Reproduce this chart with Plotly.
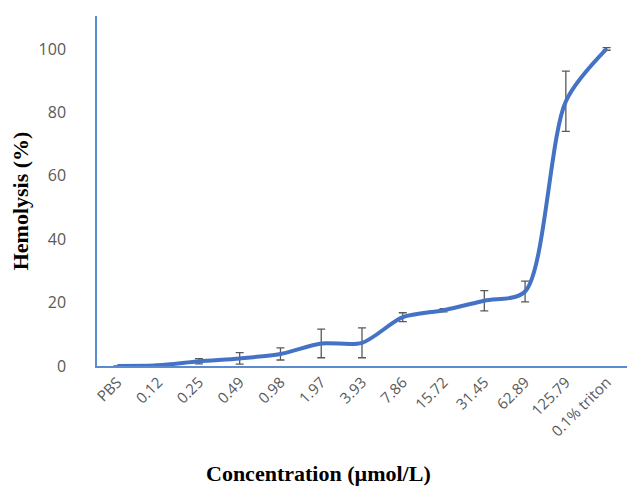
import plotly.graph_objects as go

categories = ["PBS", "0.12", "0.25", "0.49", "0.98", "1.97", "3.93", "7.86",
              "15.72", "31.45", "62.89", "125.79", "0.1% triton"]
hemolysis = [0.0, 0.2, 1.5, 2.4, 3.8, 7.1, 7.3, 15.4, 17.6, 20.6, 23.5, 83.5, 100.0]
errors = [0.0, 0.3, 0.8, 1.8, 1.9, 4.5, 4.7, 1.4, 0.5, 3.2, 3.3, 9.5, 0.4]

title_font = dict(family="Liberation Serif, Times New Roman, serif", size=22, color="black")

fig = go.Figure()
fig.add_trace(go.Scatter(
    x=categories, y=hemolysis, mode="lines",
    line=dict(color="#4472C4", width=4, shape="spline", smoothing=0.8),
    error_y=dict(type="data", array=errors, visible=True,
                 color="#595959", thickness=1.3, width=4),
    showlegend=False,
))

fig.update_layout(
    width=627, height=488,
    margin=dict(l=97, r=0, t=16, b=122),
    plot_bgcolor="white", paper_bgcolor="white",
    font=dict(family="Open Sans, Liberation Sans, sans-serif", color="#595959", size=14),
    annotations=[
        dict(text="<b>Concentration (µmol/L)</b>", xref="paper", yref="paper",
             x=0.417, y=-0.306, xanchor="center", yanchor="middle",
             showarrow=False, font=title_font),
        dict(text="<b>Hemolysis (%)</b>", xref="paper", yref="paper",
             x=-0.145, y=0.471, xanchor="center", yanchor="middle",
             textangle=-90, showarrow=False, font=title_font),
    ],
)
fig.update_xaxes(
    type="category", range=[-0.5, 12.5],
    showline=True, linecolor="#5B8BD0", linewidth=1.5,
    showgrid=False, zeroline=False, ticks="",
    tickangle=-45, tickfont=dict(size=15, color="#595959"),
)
fig.update_yaxes(
    range=[0, 110.4], tickvals=[0, 20, 40, 60, 80, 100],
    showline=True, linecolor="#5B8BD0", linewidth=1.5,
    showgrid=False, zeroline=False, ticks="", ticklabelstandoff=26,
    tickfont=dict(size=16, color="#595959"),
)
fig.write_html("out.html")
